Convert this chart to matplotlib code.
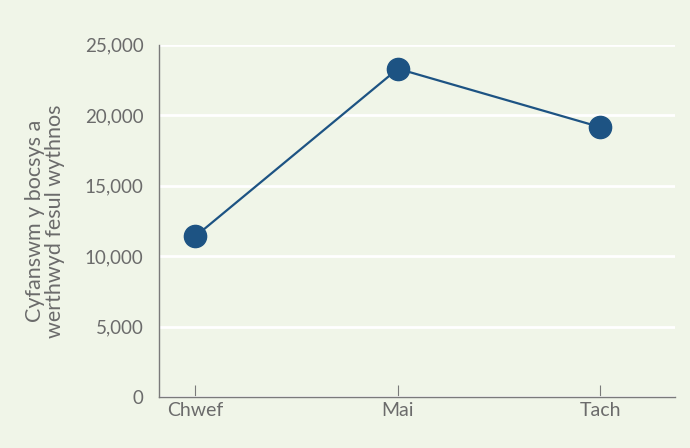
import matplotlib
matplotlib.use('Agg')
import matplotlib.pyplot as plt

# Data
months = ["Chwef", "Mai", "Tach"]
boxes = [11400, 23300, 19150]
y_ticks = [0, 5000, 10000, 15000, 20000, 25000]

bg = "#f0f5e8"
blue = "#1d5383"
grey = "#6b6b6b"

plt.rcParams['font.family'] = ['Lato', 'DejaVu Sans']

fig = plt.figure(figsize=(6.9, 4.48), dpi=100, facecolor=bg)
ax = fig.add_axes([0.230, 0.114, 0.748, 0.786], facecolor=bg)

x = list(range(len(months)))
ax.plot(x, boxes, color=blue, linewidth=1.6, marker='o', markersize=16, zorder=3)

ax.set_ylim(0, 25000)
ax.set_xlim(-0.181, 2.367)
ax.set_yticks(y_ticks)
ax.set_yticklabels([f"{v:,}" for v in y_ticks])
ax.set_xticks(x)
ax.set_xticklabels(months)

ax.grid(axis='y', color='white', linewidth=2)
ax.set_axisbelow(True)

for s in ['top', 'right']:
    ax.spines[s].set_visible(False)
for s in ['left', 'bottom']:
    ax.spines[s].set_color('#7a7a7a')
    ax.spines[s].set_linewidth(1)

ax.tick_params(axis='y', length=0, pad=11, labelsize=13.5, labelcolor=grey)
ax.tick_params(axis='x', direction='in', length=9, color='#7a7a7a', pad=4,
               labelsize=14, labelcolor=grey)

ax.set_ylabel("Cyfanswm y bocsys a\nwerthwyd fesul wythnos", fontsize=15.5,
              color=grey, linespacing=1.0, labelpad=14)

fig.savefig("out.png", dpi=100, facecolor=bg)
